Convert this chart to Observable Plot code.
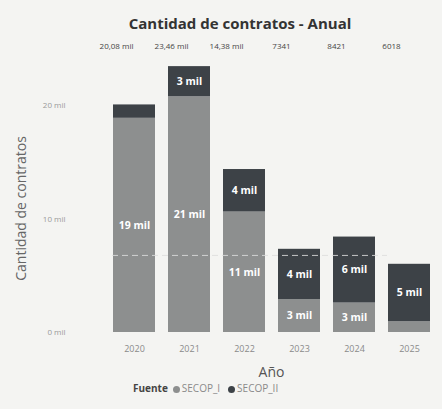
<!DOCTYPE html>
<html>
<head>
<meta charset="utf-8">
<script src="https://cdn.jsdelivr.net/npm/d3@7"></script>
<script src="https://cdn.jsdelivr.net/npm/@observablehq/plot@0.6"></script>
<style>
  html, body { margin: 0; padding: 0; background: #f4f4f2; }
  body { width: 442px; height: 409px; overflow: hidden; font-family: "Open Sans", "Noto Sans", sans-serif; }
  #title { box-sizing: border-box; height: 32px; padding-top: 14px; line-height: 18px; font-size: 15px; font-weight: 700; color: #333; text-align: center; padding-left: 38px; }
  #chart svg { display: block; background: transparent; }
  #legend { height: 16px; line-height: 16px; font-size: 10px; color: #8a8a8a; padding-left: 133px; white-space: nowrap; }
  #legend b { color: #444; font-weight: 700; margin-right: 5px; }
  #legend .sw { display: inline-block; width: 7px; height: 7px; border-radius: 50%; margin-right: 2px; vertical-align: -0.5px; }
  #legend .it { margin-right: 8px; }
</style>
</head>
<body>
<div id="title">Cantidad de contratos - Anual</div>
<div id="chart"></div>
<div id="legend"></div>
<script>
// Data (values in thousands of contracts)
const years = ["2020", "2021", "2022", "2023", "2024", "2025"];
const series = ["SECOP_I", "SECOP_II"];
const secopI = [18.9, 20.8, 10.63, 2.9, 2.6, 0.95];
const secopII = [1.18, 2.66, 3.75, 4.441, 5.821, 5.068];
const labelsI = ["19 mil", "21 mil", "11 mil", "3 mil", "3 mil", ""];
const labelsII = ["", "3 mil", "4 mil", "4 mil", "6 mil", "5 mil"];
const totalLabels = ["20,08 mil", "23,46 mil", "14,38 mil", "7341", "8421", "6018"];
const yTicks = [0, 10, 20];
const yTickLabels = ["0 mil", "10 mil", "20 mil"];
const yTitle = "Cantidad de contratos";
const xTitle = "Año";
const refValue = [6.8];
const colors = ["#8d8f8f", "#3d4247"];

const rows = [];
years.forEach((y, i) => {
  rows.push({year: y, fuente: series[0], value: secopI[i], label: labelsI[i]});
  rows.push({year: y, fuente: series[1], value: secopII[i], label: labelsII[i]});
});
const totals = years.map((y, i) => ({year: y, text: totalLabels[i]}));

const plot = Plot.plot({
  width: 442,
  height: 348,
  marginLeft: 100,
  marginRight: 0,
  marginTop: 28,
  marginBottom: 48,
  style: {fontFamily: "'Open Sans', 'Noto Sans', sans-serif", background: "transparent"},
  x: {domain: years, paddingInner: 0.24, paddingOuter: 0.22},
  y: {domain: [0, 24]},
  color: {domain: series, range: colors},
  marks: [
    Plot.barY(rows, {x: "year", y: "value", fill: "fuente", order: series}),
    Plot.ruleY(refValue, {stroke: "#dcdcdc", strokeDasharray: "6,4", strokeWidth: 1, strokeOpacity: 0.85, insetLeft: 12, insetRight: 55}),
    Plot.text(rows, Plot.stackY({x: "year", y: "value", z: "fuente", order: series, text: "label", fill: "white", fontWeight: "bold", fontSize: 10.5})),
    Plot.text(totals, {x: "year", text: "text", frameAnchor: "top", dy: -17, dx: -18, fontSize: 8, fill: "#444"}),
    Plot.axisY({ticks: yTicks, tickFormat: (d) => yTickLabels[yTicks.indexOf(d)], tickSize: 0, tickPadding: 35, fontSize: 8, color: "#9a9a9a", label: null}),
    Plot.text([yTitle], {text: (d) => d, frameAnchor: "left", textAnchor: "middle", rotate: -90, dx: -79, dy: 12, fontSize: 14, fill: "#666", letterSpacing: "2px"}),
    Plot.axisX({tickSize: 0, tickPadding: 13, fontSize: 9, color: "#8a8a8a", label: null}),
    Plot.axisX({ticks: [], label: xTitle, labelAnchor: "center", labelOffset: 44, fontSize: 14, color: "#555"})
  ]
});
document.getElementById("chart").appendChild(plot);

const legend = document.getElementById("legend");
legend.innerHTML = "<b>Fuente</b>" + series.map((s, i) =>
  `<span class="it"><span class="sw" style="background:${colors[i]}"></span>${s}</span>`).join("");
</script>
</body>
</html>
